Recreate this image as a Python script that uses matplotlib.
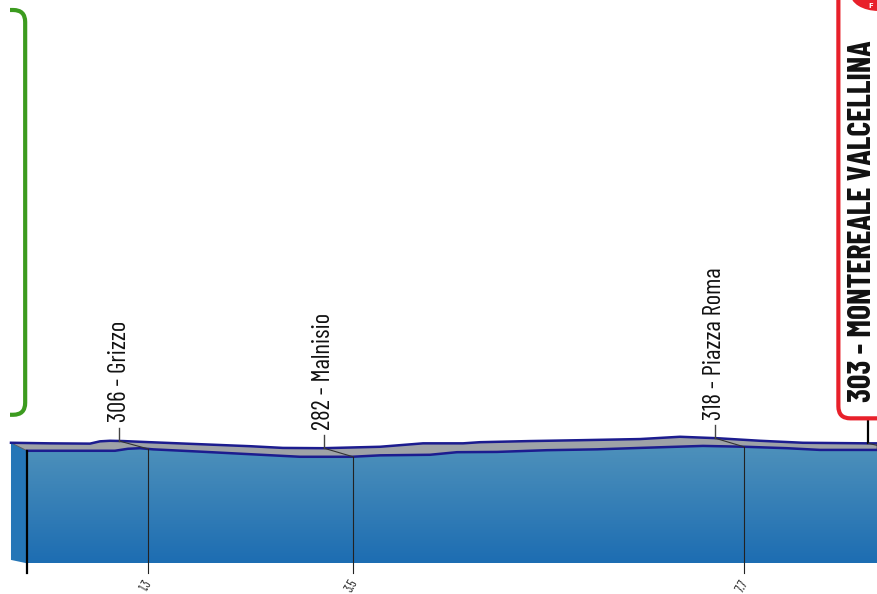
import numpy as np
import matplotlib.pyplot as plt
from matplotlib.patches import Polygon, FancyBboxPatch, Rectangle, Ellipse

### Data
# back (upper) edge of the road band
back_km = [-0.174, 0.245, 0.675, 0.782, 0.890, 1.029, 1.319, 1.857, 2.394, 2.748, 3.178, 3.791,
           4.253, 4.683, 4.865, 5.403, 5.940, 6.585, 7.014, 7.412, 7.874, 8.336, 9.034, 9.131]
back_elev = [302, 300, 299, 307, 309, 308, 304, 297, 290, 284, 283, 288,
             300, 300, 304, 308, 311, 315, 323, 318, 309, 302, 300, 300]
# front (lower) edge of the road band = top of the blue face
front_km = [0.0, 0.782, 0.943, 1.083, 1.212, 1.352, 1.857, 2.394, 2.931, 3.490, 3.791,
            4.328, 4.618, 5.048, 5.585, 6.123, 6.585, 7.261, 7.712, 8.163, 8.518, 9.131]
front_elev = [274, 274, 274, 281, 283, 279, 271, 262, 253, 253, 258,
              260, 269, 270, 276, 279, 284, 291, 288, 283, 277, 277]

point_km = [1.3, 3.5, 7.7]
point_elev = [306, 282, 318]
point_name = ['Grizzo', 'Malnisio', 'Piazza Roma']

finish_km = 9.35
finish_elev = 303
finish_name = 'MONTEREALE VALCELLINA'

### Style
W, H, DPI = 877, 594, 100
xlim = (-0.292, 9.131)
ylim = (-227.3, 1851.7)
km_px = (xlim[1] - xlim[0]) / W     # km per pixel
m_px = (ylim[1] - ylim[0]) / H      # metres per pixel
depth_km = 29 * km_px               # 3d offset between front and back edge
base = -120                         # bottom of the front face
navy = '#1c1c8f'
narrow = ['Barlow Condensed', 'Archivo Narrow', 'DejaVu Sans']

fig = plt.figure(figsize=(W / DPI, H / DPI), dpi=DPI)
ax = fig.add_axes([0, 0, 1, 1])
ax.set_xlim(*xlim)
ax.set_ylim(*ylim)
ax.axis('off')

# left side face
side = Polygon([(back_km[0], back_elev[0]), (front_km[0], front_elev[0]),
                (front_km[0], base), (back_km[0], base + 12)],
               closed=True, fc='#2576b7', ec='none', zorder=2)
ax.add_patch(side)

# front face with a vertical gradient
face = Polygon(list(zip(front_km, front_elev)) + [(front_km[-1], base), (front_km[0], base)],
               closed=True, fc='none', ec='none', zorder=2)
ax.add_patch(face)
t = np.linspace(0, 1, 256)[:, None, None]
c_top = np.array([0x4e, 0x91, 0xbb]) / 255
c_bot = np.array([0x1d, 0x6d, 0xb2]) / 255
grad = c_top + (c_bot - c_top) * t
im = ax.imshow(grad, extent=[front_km[0], front_km[-1], base, max(front_elev)],
               origin='upper', aspect='auto', zorder=2)
im.set_clip_path(face)

# grey road band
band = Polygon(list(zip(back_km, back_elev)) + list(zip(front_km, front_elev))[::-1],
               closed=True, fc='#9ea2a7', ec='#555', lw=0.6, zorder=3)
ax.add_patch(band)
ax.plot(back_km, back_elev, color=navy, lw=1.8, zorder=5)
ax.plot(front_km, front_elev, color=navy, lw=1.8, zorder=5)

# start tick
ax.plot([front_km[0], front_km[0]], [front_elev[0], base - 35], color='black', lw=1.6, zorder=6)

# intermediate points
for km, elev, name in zip(point_km, point_elev, point_name):
    kb = km - depth_km
    eb = np.interp(kb, back_km, back_elev)
    ef = np.interp(km, front_km, front_elev)
    ax.plot([kb, km], [eb, ef], color='#333', lw=0.8, zorder=6)
    ax.plot([km, km], [ef, base - 35], color='#222', lw=0.8, zorder=6)
    ax.plot([kb, kb], [eb, eb + 13 * m_px], color='#444', lw=1.0, zorder=6)
    ax.annotate(f'{elev} - {name}', xy=(kb, eb + 13 * m_px), xytext=(0, 4),
                textcoords='offset points', rotation=90, ha='center', va='bottom',
                fontsize=18, family=narrow, color='#111')
    ax.annotate(f'{km}', xy=(km, base - 35), xytext=(-1, -3), textcoords='offset points',
                rotation=60, ha='center', va='top', fontsize=9, family=narrow, color='#222')

# finish tick
fb = finish_km - depth_km
feb = np.interp(fb, back_km, back_elev)
ax.plot([fb, fb], [feb, feb + 23 * m_px], color='black', lw=1.6, zorder=6)
ax.plot([fb, xlim[1]], [feb, feb - 2 * m_px], color='#333', lw=0.8, zorder=6)

# overlay in pixel units for the start / finish frames
ov = fig.add_axes([0, 0, 1, 1], zorder=10)
ov.set_xlim(0, W)
ov.set_ylim(H, 0)
ov.axis('off')
ov.patch.set_alpha(0)

sx, sy = ax.transData.transform((front_km[0], back_elev[0]))
sy = H - sy
start_box = FancyBboxPatch((-120, 10), width=120 + sx - 2, height=sy - 28 - 10,
                           boxstyle='round,pad=0,rounding_size=12',
                           fc='none', ec='#3c9b1f', lw=3)
ov.add_patch(start_box)
start_box.set_clip_path(Rectangle((10, 0), W, H, transform=ov.transData))

fx, fy = ax.transData.transform((fb, feb))
fy = H - fy
finish_box = FancyBboxPatch((fx - 30, -60), width=120, height=fy - 25 + 60,
                            boxstyle='round,pad=0,rounding_size=12',
                            fc='white', ec='#e8202a', lw=3)
ov.add_patch(finish_box)
ov.add_patch(Ellipse((fx + 10, -6), 58, 36, fc='#e8202a', ec='white', lw=1.5))
ov.text(fx + 2, 6, 'F', color='white', fontsize=5, fontweight='bold', ha='center', va='center')
ov.text(fx - 6, fy - 41, f'{finish_elev} - {finish_name}', rotation=90, ha='center', va='bottom',
        fontsize=23, fontweight='bold', family=narrow, color='#111')

fig.savefig('out.png', dpi=DPI)
